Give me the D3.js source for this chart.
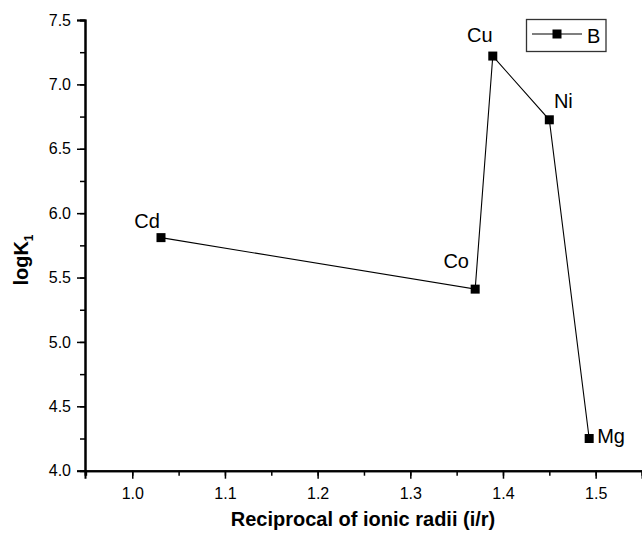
<!DOCTYPE html>
<html>
<head>
<meta charset="utf-8">
<script src="https://cdn.jsdelivr.net/npm/d3@7"></script>
<style>
body { margin: 0; background: #fff; }
svg { display: block; font-family: "Liberation Sans", Arial, sans-serif; }
</style>
</head>
<body>
<div id="grafica"></div>
<script>
// datos
var metals = ["Cd", "Co", "Cu", "Ni", "Mg"];
var recip = [1.031, 1.370, 1.389, 1.450, 1.493];
var logK = [5.81, 5.41, 7.22, 6.725, 4.25];
var xTicks = [1.0, 1.1, 1.2, 1.3, 1.4, 1.5];
var yTicks = [4.0, 4.5, 5.0, 5.5, 6.0, 6.5, 7.0, 7.5];
var seriesName = "B";

// posicion de etiquetas (dx, dy, anchor) respecto al marcador
var labelPos = {
  Cd: [-14, -10, "middle"],
  Co: [-19, -21, "middle"],
  Cu: [-13, -14, "middle"],
  Ni: [14, -12, "middle"],
  Mg: [8, 4, "start"]
};

var data = metals.map(function(m, i) { return {name: m, x: recip[i], y: logK[i]}; });

var W = 642, H = 537;
var svg = d3.select("#grafica")
  .append("svg")
  .attr("width", W)
  .attr("height", H);

var x = d3.scaleLinear().domain([0.949, 1.55]).range([85, 642]);
var y = d3.scaleLinear().domain([4.0, 7.5]).range([470.7, 20]);

// eje X
var gx = svg.append("g")
  .attr("transform", "translate(0," + y(4.0) + ")");
gx.call(d3.axisBottom(x).tickValues(d3.range(0.95, 1.5501, 0.05)).tickSize(5).tickFormat(""));
gx.call(function(g) {
  g.append("g").call(d3.axisBottom(x).tickValues(xTicks).tickSize(8).tickPadding(9).tickFormat(d3.format(".1f")));
});
gx.selectAll(".domain").attr("stroke-width", 2);

// eje Y
var gy = svg.append("g")
  .attr("transform", "translate(" + x(0.949) + ",0)");
gy.call(d3.axisLeft(y).tickValues(d3.range(4.0, 7.5001, 0.25)).tickSize(5).tickFormat(""));
gy.call(function(g) {
  g.append("g").call(d3.axisLeft(y).tickValues(yTicks).tickSize(8).tickPadding(6).tickFormat(d3.format(".1f")));
});
gy.selectAll(".domain").attr("stroke-width", 2);

svg.selectAll(".tick line").attr("stroke", "#000").attr("stroke-width", 1.5);
svg.selectAll(".tick text")
  .attr("fill", "#000")
  .style("font-family", "'Liberation Sans', Arial, sans-serif")
  .style("font-size", "16px");

// titulos
svg.append("text")
  .attr("x", 363)
  .attr("y", 526)
  .attr("text-anchor", "middle")
  .style("font-size", "20px")
  .style("font-weight", "bold")
  .text("Reciprocal of ionic radii (i/r)");

var yt = svg.append("text")
  .attr("transform", "translate(28,260) rotate(-90)")
  .attr("text-anchor", "middle")
  .style("font-size", "20px")
  .style("font-weight", "bold");
yt.append("tspan").text("logK");
yt.append("tspan").attr("dy", 5).style("font-size", "12px").text("1");

// linea
var line = d3.line()
  .x(function(d) { return x(d.x); })
  .y(function(d) { return y(d.y); });

svg.append("path")
  .datum(data)
  .attr("d", line)
  .attr("fill", "none")
  .attr("stroke", "#000")
  .attr("stroke-width", 1.1);

// marcadores
var ms = 9;
svg.selectAll("rect.pt")
  .data(data)
  .enter()
  .append("rect")
  .attr("class", "pt")
  .attr("x", function(d) { return x(d.x) - ms / 2; })
  .attr("y", function(d) { return y(d.y) - ms / 2; })
  .attr("width", ms)
  .attr("height", ms)
  .attr("fill", "#000");

// etiquetas
svg.selectAll("text.lbl")
  .data(data)
  .enter()
  .append("text")
  .attr("class", "lbl")
  .attr("x", function(d) { return x(d.x) + labelPos[d.name][0]; })
  .attr("y", function(d) { return y(d.y) + labelPos[d.name][1]; })
  .attr("text-anchor", function(d) { return labelPos[d.name][2]; })
  .style("font-size", "20px")
  .text(function(d) { return d.name; });

// leyenda
var lg = svg.append("g");
lg.append("rect")
  .attr("x", 526.5).attr("y", 19.5)
  .attr("width", 79.5).attr("height", 32)
  .attr("fill", "#fff")
  .attr("stroke", "#333")
  .attr("stroke-width", 1.3);
lg.append("line")
  .attr("x1", 532).attr("x2", 582)
  .attr("y1", 34).attr("y2", 34)
  .attr("stroke", "#000").attr("stroke-width", 1.1);
lg.append("rect")
  .attr("x", 557 - ms / 2).attr("y", 34 - ms / 2)
  .attr("width", ms).attr("height", ms)
  .attr("fill", "#000");
lg.append("text")
  .attr("x", 587).attr("y", 43)
  .style("font-size", "20px")
  .text(seriesName);
</script>
</body>
</html>
